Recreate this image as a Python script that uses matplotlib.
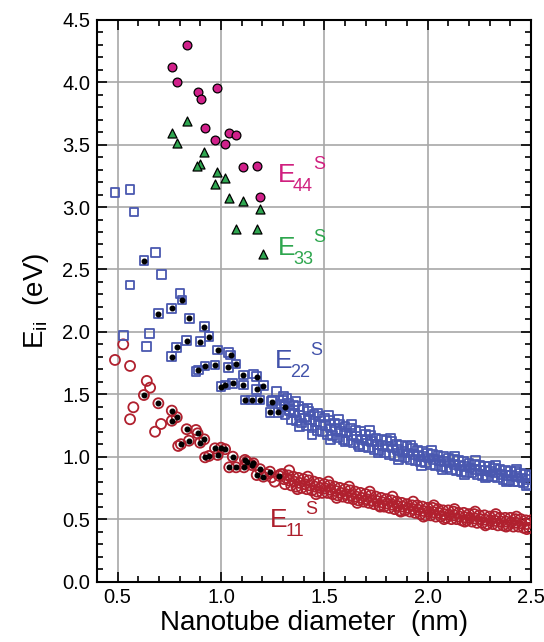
import matplotlib
matplotlib.use("Agg")
import matplotlib.pyplot as plt
from matplotlib.transforms import offset_copy
from matplotlib.ticker import MultipleLocator, FormatStrFormatter

plt.rcParams['font.family'] = ['Liberation Sans', 'DejaVu Sans']
plt.rcParams['mathtext.fontset'] = 'custom'
plt.rcParams['mathtext.rm'] = 'Liberation Sans'

# ---- data ----
e44_d = [0.834, 0.762, 0.789, 0.890, 0.902, 0.982, 0.921, 0.971, 1.037, 1.072, 1.020, 1.108, 1.173, 1.189]
e44_e = [4.30, 4.125, 4.005, 3.92, 3.866, 3.95, 3.63, 3.54, 3.59, 3.58, 3.505, 3.32, 3.33, 3.08]

e33_d = [0.834, 0.762, 0.786, 0.919, 0.899, 0.886, 0.979, 1.020, 0.971, 1.037, 1.108, 1.189, 1.073, 1.173, 1.205]
e33_e = [3.69, 3.59, 3.51, 3.44, 3.345, 3.33, 3.28, 3.235, 3.185, 3.075, 3.05, 2.985, 2.82, 2.82, 2.62]

e22_open_d = [0.487, 0.56, 0.579, 0.682, 0.713, 0.560, 0.802, 0.527, 0.653, 0.641, 0.879, 1.036, 1.157,
              1.27, 1.302, 1.35, 1.25, 1.29, 1.33,
              1.300, 1.325, 1.350, 1.375, 1.400, 1.425, 1.450, 1.475, 1.500, 1.525, 1.550, 1.575, 1.600,
              1.625, 1.650, 1.675, 1.700, 1.725, 1.750, 1.775, 1.800, 1.825, 1.850, 1.875, 1.900, 1.925,
              1.950, 1.975, 2.000, 2.025, 2.050, 2.075, 2.100, 2.125, 2.150, 2.175, 2.200, 2.225, 2.250,
              2.275, 2.300, 2.325, 2.350, 2.375, 2.400, 2.425, 2.450, 2.475, 2.500,
              1.310, 1.340, 1.365, 1.390, 1.415, 1.440, 1.465, 1.490, 1.515, 1.540, 1.565, 1.590, 1.615,
              1.640, 1.665, 1.690, 1.715, 1.740, 1.765, 1.790, 1.815, 1.840, 1.865, 1.890, 1.915, 1.940,
              1.965, 1.990, 2.015, 2.040, 2.065, 2.090, 2.115, 2.140, 2.165, 2.190, 2.215, 2.240, 2.265,
              2.290, 2.315, 2.340, 2.365, 2.390, 2.415, 2.440, 2.465, 2.490,
              1.305, 1.330, 1.355, 1.380, 1.405, 1.430, 1.455, 1.480, 1.505, 1.530, 1.555, 1.580, 1.605,
              1.630, 1.655, 1.680, 1.705, 1.730, 1.755, 1.780, 1.805, 1.830, 1.855, 1.880, 1.905, 1.930,
              1.955, 1.980, 2.005, 2.030, 2.055, 2.080, 2.105, 2.130, 2.155, 2.180, 2.205, 2.230, 2.255,
              2.280, 2.305, 2.330, 2.355, 2.380, 2.405, 2.430, 2.455, 2.480,
              1.32, 1.36, 1.38, 1.42, 1.44, 1.47, 1.52, 1.53, 1.57, 1.60, 1.63, 1.67, 1.72, 1.76,
              1.82, 1.86, 1.92, 1.97, 2.02, 2.07, 2.13, 2.18, 2.23, 2.28, 2.33, 2.38, 2.43, 2.48]
e22_open_e = [3.115, 3.14, 2.96, 2.635, 2.46, 2.375, 2.31, 1.97, 1.985, 1.88, 1.68, 1.833, 1.663,
              1.52, 1.48, 1.35, 1.45, 1.42, 1.38,
              1.45, 1.43, 1.41, 1.40, 1.38, 1.36, 1.34, 1.32, 1.31, 1.29, 1.27, 1.26, 1.24,
              1.23, 1.21, 1.20, 1.18, 1.17, 1.15, 1.14, 1.13, 1.12, 1.10, 1.09, 1.08, 1.07,
              1.05, 1.04, 1.03, 1.02, 1.01, 1.00, 0.99, 0.98, 0.97, 0.96, 0.95, 0.94, 0.93,
              0.92, 0.92, 0.91, 0.90, 0.89, 0.88, 0.88, 0.87, 0.86, 0.85,
              1.34, 1.30, 1.29, 1.27, 1.25, 1.23, 1.21, 1.20, 1.18, 1.17, 1.15, 1.14, 1.13,
              1.11, 1.10, 1.08, 1.07, 1.06, 1.05, 1.03, 1.02, 1.01, 1.00, 0.99, 0.98, 0.97,
              0.96, 0.95, 0.94, 0.93, 0.92, 0.91, 0.90, 0.89, 0.88, 0.87, 0.87, 0.86, 0.85,
              0.84, 0.84, 0.83, 0.82, 0.81, 0.80, 0.80, 0.79, 0.78,
              1.40, 1.37, 1.35, 1.33, 1.31, 1.30, 1.28, 1.26, 1.25, 1.23, 1.22, 1.20, 1.19,
              1.17, 1.16, 1.14, 1.13, 1.12, 1.10, 1.09, 1.08, 1.07, 1.06, 1.04, 1.03, 1.02,
              1.01, 1.00, 0.99, 0.98, 0.97, 0.96, 0.95, 0.94, 0.93, 0.92, 0.91, 0.90, 0.89,
              0.89, 0.88, 0.87, 0.86, 0.85, 0.85, 0.84, 0.83, 0.82,
              1.47, 1.44, 1.24, 1.39, 1.18, 1.35, 1.33, 1.14, 1.30, 1.12, 1.26, 1.08, 1.21, 1.03,
              1.15, 0.98, 1.09, 0.93, 1.05, 0.90, 1.00, 0.86, 0.97, 0.83, 0.93, 0.80, 0.90, 0.77]

e22_dot_d = [0.627, 0.811, 0.762, 0.697, 0.847, 0.919, 0.942, 0.834, 0.786, 0.899, 0.984, 0.762, 0.89,
             0.923, 0.971, 1.0, 1.047, 1.036, 1.073, 1.02, 1.057, 1.108, 1.108, 1.173, 1.173, 1.205,
             1.116, 1.149, 1.189, 1.246, 1.237, 1.278, 1.31]
e22_dot_e = [2.57, 2.255, 2.19, 2.145, 2.11, 2.04, 1.96, 1.93, 1.875, 1.92, 1.855, 1.80, 1.695,
             1.727, 1.735, 1.56, 1.815, 1.716, 1.743, 1.575, 1.588, 1.574, 1.655, 1.64, 1.54, 1.57,
             1.454, 1.454, 1.454, 1.44, 1.356, 1.356, 1.40]

e11_open_d = [0.527, 0.487, 0.56, 0.641, 0.657, 0.576, 0.56, 0.71, 0.681, 0.879, 0.793,
              1.22, 1.245, 1.26, 1.29, 1.318,
              1.300, 1.325, 1.350, 1.375, 1.400, 1.425, 1.450, 1.475, 1.500, 1.525, 1.550, 1.575, 1.600,
              1.625, 1.650, 1.675, 1.700, 1.725, 1.750, 1.775, 1.800, 1.825, 1.850, 1.875, 1.900, 1.925,
              1.950, 1.975, 2.000, 2.025, 2.050, 2.075, 2.100, 2.125, 2.150, 2.175, 2.200, 2.225, 2.250,
              2.275, 2.300, 2.325, 2.350, 2.375, 2.400, 2.425, 2.450, 2.475, 2.500,
              1.310, 1.340, 1.365, 1.390, 1.415, 1.440, 1.465, 1.490, 1.515, 1.540, 1.565, 1.590, 1.615,
              1.640, 1.665, 1.690, 1.715, 1.740, 1.765, 1.790, 1.815, 1.840, 1.865, 1.890, 1.915, 1.940,
              1.965, 1.990, 2.015, 2.040, 2.065, 2.090, 2.115, 2.140, 2.165, 2.190, 2.215, 2.240, 2.265,
              2.290, 2.315, 2.340, 2.365, 2.390, 2.415, 2.440, 2.465, 2.490,
              1.305, 1.330, 1.355, 1.380, 1.405, 1.430, 1.455, 1.480, 1.505, 1.530, 1.555, 1.580, 1.605,
              1.630, 1.655, 1.680, 1.705, 1.730, 1.755, 1.780, 1.805, 1.830, 1.855, 1.880, 1.905, 1.930,
              1.955, 1.980, 2.005, 2.030, 2.055, 2.080, 2.105, 2.130, 2.155, 2.180, 2.205, 2.230, 2.255,
              2.280, 2.305, 2.330, 2.355, 2.380, 2.405, 2.430, 2.455, 2.480,
              1.33, 1.37, 1.42, 1.46, 1.52, 1.56, 1.62, 1.66, 1.72, 1.77, 1.83, 1.87,
              1.93, 1.98, 2.03, 2.08, 2.13, 2.18, 2.23, 2.28, 2.33, 2.38, 2.43, 2.48]
e11_open_e = [1.90, 1.775, 1.727, 1.607, 1.553, 1.396, 1.30, 1.262, 1.20, 1.214, 1.086,
              0.86, 0.835, 0.80, 0.86, 0.827,
              0.86, 0.85, 0.84, 0.83, 0.82, 0.81, 0.80, 0.79, 0.78, 0.77, 0.76, 0.75, 0.74,
              0.73, 0.72, 0.71, 0.70, 0.69, 0.68, 0.67, 0.66, 0.65, 0.64, 0.63, 0.62, 0.61,
              0.61, 0.60, 0.59, 0.59, 0.58, 0.57, 0.57, 0.56, 0.55, 0.55, 0.54, 0.54, 0.53,
              0.53, 0.52, 0.52, 0.51, 0.51, 0.51, 0.50, 0.50, 0.49, 0.49,
              0.78, 0.77, 0.76, 0.75, 0.74, 0.73, 0.72, 0.71, 0.71, 0.70, 0.69, 0.68, 0.67,
              0.66, 0.65, 0.64, 0.63, 0.62, 0.61, 0.60, 0.59, 0.58, 0.57, 0.57, 0.56, 0.55,
              0.54, 0.53, 0.53, 0.52, 0.52, 0.51, 0.50, 0.50, 0.49, 0.49, 0.48, 0.47, 0.47,
              0.46, 0.46, 0.45, 0.45, 0.45, 0.44, 0.44, 0.43, 0.43,
              0.82, 0.81, 0.80, 0.79, 0.78, 0.77, 0.76, 0.75, 0.745, 0.735, 0.725, 0.71, 0.70,
              0.69, 0.68, 0.67, 0.66, 0.65, 0.645, 0.635, 0.625, 0.615, 0.605, 0.60, 0.59, 0.58,
              0.575, 0.565, 0.56, 0.555, 0.55, 0.54, 0.535, 0.53, 0.52, 0.515, 0.51, 0.505, 0.50,
              0.495, 0.49, 0.485, 0.48, 0.48, 0.475, 0.47, 0.465, 0.46,
              0.89, 0.74, 0.84, 0.70, 0.80, 0.67, 0.76, 0.63, 0.72, 0.60, 0.68, 0.56,
              0.64, 0.52, 0.61, 0.50, 0.58, 0.48, 0.56, 0.45, 0.54, 0.44, 0.52, 0.42]

e11_dot_d = [0.627, 0.697, 0.762, 0.786, 0.762, 0.834, 0.887, 0.845, 0.806, 0.899, 0.919, 0.971, 1.0,
             0.923, 0.942, 0.984, 1.02, 1.057, 1.04, 1.073, 1.116, 1.111, 1.157, 1.189, 1.173, 1.237,
             1.205, 1.28, 1.125, 1.149]
e11_dot_e = [1.494, 1.428, 1.369, 1.316, 1.288, 1.22, 1.187, 1.128, 1.10, 1.112, 1.139, 1.067, 1.072,
             0.995, 1.006, 1.014, 1.06, 1.0, 0.915, 0.915, 0.974, 0.915, 0.947, 0.90, 0.853, 0.88,
             0.84, 0.848, 0.96, 0.933]

labels = [("44", 1.276, 3.20, '#d0207f'),
          ("33", 1.276, 2.616, '#2ea64e'),
          ("22", 1.262, 1.711, '#4252aa'),
          ("11", 1.238, 0.437, '#ad1f2c')]

C_RED = '#b0202e'
C_BLUE = '#4a58b0'
C_MAG = '#d0208a'
C_GRN = '#2fa650'

fig = plt.figure(figsize=(5.44, 6.42), dpi=100)
ax = fig.add_axes([0.1783, 0.0942, 0.7977, 0.875])

ax.set_xlim(0.4, 2.5)
ax.set_ylim(0.0, 4.5)
ax.xaxis.set_major_locator(MultipleLocator(0.5))
ax.xaxis.set_minor_locator(MultipleLocator(0.1))
ax.yaxis.set_major_locator(MultipleLocator(0.5))
ax.yaxis.set_minor_locator(MultipleLocator(0.1))
ax.grid(True, which='major', color='#a8a8a8', linewidth=1.2)
ax.set_axisbelow(True)
ax.tick_params(which='both', direction='in', top=True, right=True, labelsize=14.5, width=1.2)
ax.tick_params(which='major', length=7, pad=5)
ax.tick_params(which='minor', length=4)
ax.xaxis.set_major_formatter(FormatStrFormatter('%.1f'))
ax.yaxis.set_major_formatter(FormatStrFormatter('%.1f'))
for s in ax.spines.values():
    s.set_linewidth(1.5)

# E11
ax.scatter(e11_open_d, e11_open_e, s=52, facecolors='none', edgecolors=C_RED, linewidths=1.3, zorder=3)
ax.scatter(e11_dot_d, e11_dot_e, s=52, facecolors='none', edgecolors=C_RED, linewidths=1.3, zorder=3)
ax.scatter(e11_dot_d, e11_dot_e, s=11, color='black', zorder=4)
# E22
ax.scatter(e22_open_d, e22_open_e, s=40, marker='s', facecolors='none', edgecolors=C_BLUE, linewidths=1.3, zorder=3)
ax.scatter(e22_dot_d, e22_dot_e, s=40, marker='s', facecolors='none', edgecolors=C_BLUE, linewidths=1.3, zorder=3)
ax.scatter(e22_dot_d, e22_dot_e, s=11, color='black', zorder=4)
# E33 / E44
ax.scatter(e33_d, e33_e, s=42, marker='^', facecolors=C_GRN, edgecolors='black', linewidths=0.9, zorder=5)
ax.scatter(e44_d, e44_e, s=40, marker='o', facecolors=C_MAG, edgecolors='black', linewidths=0.9, zorder=5)

for sub, x, y, col in labels:
    ax.text(x, y, 'E', color=col, fontsize=19, ha='left', va='baseline', zorder=6)
    t1 = offset_copy(ax.transData, fig=fig, x=15, y=-9, units='dots')
    ax.text(x, y, sub, transform=t1, color=col, fontsize=13, ha='left', va='baseline', zorder=6)
    t2 = offset_copy(ax.transData, fig=fig, x=35, y=13, units='dots')
    ax.text(x, y, 'S', transform=t2, color=col, fontsize=13, ha='left', va='baseline', zorder=6)

ax.set_xlabel('Nanotube diameter  (nm)', fontsize=20, labelpad=2)
ax.set_ylabel(r'E$_{\mathregular{ii}}$  (eV)', fontsize=20, labelpad=8)

fig.savefig('out.png', dpi=100)
